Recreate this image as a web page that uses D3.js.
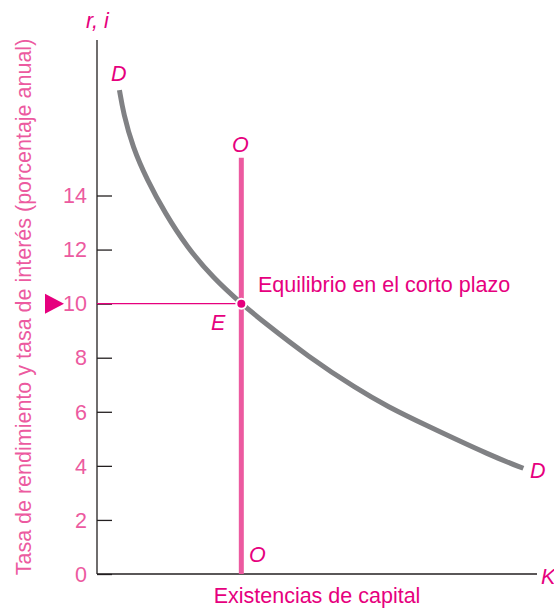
<!DOCTYPE html>
<html>
<head>
<meta charset="utf-8">
<script src="https://cdn.jsdelivr.net/npm/d3@7"></script>
<style>
  body { margin: 0; background: #fff; }
  svg text { font-family: 'Liberation Sans', Arial, sans-serif; }
</style>
</head>
<body>
<div id="chart"></div>
<script>
// demand curve D (capital stock in arbitrary units, rate in %)
const curveK = [0.51, 0.60, 0.81, 1.14, 1.55, 2.04, 2.64, 3.28, 3.78, 4.80, 5.90, 6.62, 7.41, 9.00, 9.69];
const curveR = [17.9, 17.04, 15.8, 14.57, 13.34, 12.1, 10.95, 10.0, 9.33, 8.04, 6.85, 6.18, 5.55, 4.34, 3.91];
// short-run supply O (fixed stock)
const supplyK = 3.28;
const supplyTop = 15.4;
const equilibriumR = 10;
const yTicks = [0, 2, 4, 6, 8, 10, 12, 14];

const pink = '#e6007e';
const lightPink = '#ec5aa0';
const grey = '#808184';
const fontSize = 21.5;

const width = 554;
const height = 610;
const margin = { left: 97, top: 40, right: 17, bottom: 36 };

const x = d3.scaleLinear()
    .domain([0, 10])
    .range([margin.left, width - margin.right]);

const y = d3.scaleLinear()
    .domain([0, 14])
    .range([574, 195.5]);

const svg = d3.select('#chart').append('svg')
    .attr('width', width)
    .attr('height', height);

// axes
const yAxis = d3.axisRight(y)
    .tickValues(yTicks)
    .tickSize(15)
    .tickFormat('');

svg.append('g')
    .attr('transform', `translate(${margin.left},0)`)
    .call(yAxis)
    .call((g) => g.select('.domain').remove())
    .call((g) => g.selectAll('.tick line').attr('stroke', '#231f20').attr('stroke-width', 1.3));

svg.append('line')
    .attr('x1', margin.left).attr('x2', margin.left)
    .attr('y1', margin.top).attr('y2', y(0))
    .attr('stroke', '#231f20').attr('stroke-width', 1.3);

svg.append('line')
    .attr('x1', margin.left).attr('x2', x(10))
    .attr('y1', y(0)).attr('y2', y(0))
    .attr('stroke', '#231f20').attr('stroke-width', 1.3);

svg.selectAll('.ylab')
    .data(yTicks)
  .enter()
    .append('text')
    .attr('class', 'ylab')
    .attr('x', 87)
    .attr('y', (d) => y(d))
    .attr('dy', '0.36em')
    .attr('text-anchor', 'end')
    .attr('font-size', fontSize)
    .attr('fill', lightPink)
    .text((d) => d);

// triangle marker at equilibrium rate
svg.append('path')
    .attr('d', `M45,${y(equilibriumR) - 10}L64,${y(equilibriumR)}L45,${y(equilibriumR) + 10}Z`)
    .attr('fill', pink);

// horizontal guide to E
svg.append('line')
    .attr('x1', margin.left).attr('x2', x(supplyK))
    .attr('y1', y(equilibriumR)).attr('y2', y(equilibriumR))
    .attr('stroke', pink).attr('stroke-width', 1.3);

// supply line O
svg.append('line')
    .attr('x1', x(supplyK)).attr('x2', x(supplyK))
    .attr('y1', y(supplyTop)).attr('y2', y(0))
    .attr('stroke', lightPink).attr('stroke-width', 5);

// demand curve D
const line = d3.line()
    .x((d) => x(d[0]))
    .y((d) => y(d[1]))
    .curve(d3.curveBasis);

svg.append('path')
    .datum(curveK.map((k, i) => [k, curveR[i]]))
    .attr('d', line)
    .attr('fill', 'none')
    .attr('stroke', grey)
    .attr('stroke-width', 5);

// equilibrium point
svg.append('circle')
    .attr('cx', x(supplyK))
    .attr('cy', y(equilibriumR))
    .attr('r', 5)
    .attr('fill', pink)
    .attr('stroke', '#fff')
    .attr('stroke-width', 2);

// labels
const label = (txt, lx, ly, opts = {}) => svg.append('text')
    .attr('x', lx)
    .attr('y', ly)
    .attr('font-size', fontSize)
    .attr('font-style', opts.italic ? 'italic' : 'normal')
    .attr('text-anchor', opts.anchor || 'start')
    .attr('fill', opts.color || pink)
    .text(txt);

label('r, i', 86, 28, { italic: true });
label('D', 111, 81, { italic: true });
label('O', 232, 152, { italic: true });
label('O', 249, 562, { italic: true });
label('E', 211, 330, { italic: true });
label('D', 530, 478, { italic: true });
label('K', 541, 584, { italic: true });
label('Equilibrio en el corto plazo', 258, 292);
label('Existencias de capital', 317, 603, { anchor: 'middle' });

svg.append('text')
    .attr('transform', 'translate(31,307) rotate(-90)')
    .attr('text-anchor', 'middle')
    .attr('font-size', fontSize)
    .attr('fill', lightPink)
    .text('Tasa de rendimiento y tasa de interés (porcentaje anual)');
</script>
</body>
</html>
